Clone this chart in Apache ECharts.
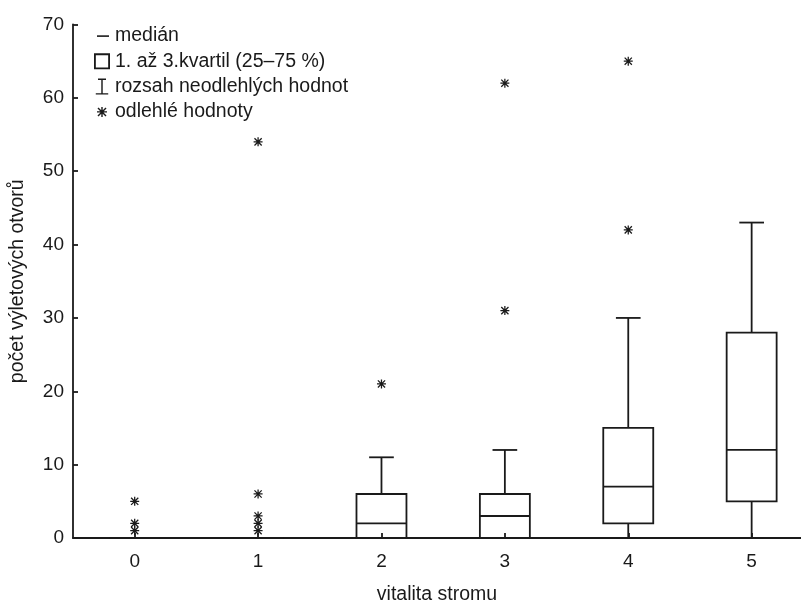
<!DOCTYPE html>
<html>
<head>
<meta charset="utf-8">
<script src="https://cdn.jsdelivr.net/npm/echarts@6/dist/echarts.min.js"></script>
<style>
html,body{margin:0;padding:0;background:#fff;}
#chart{width:801px;height:610px;}
</style>
</head>
<body>
<div id="chart"></div>
<script>
// ---- data ----
const categories = ['0', '1', '2', '3', '4', '5'];
const q1 = [0, 0, 0, 0, 2, 5];
const median = [0, 0, 2, 3, 7, 12];
const q3 = [0, 0, 6, 6, 15, 28];
const whiskerLow = [0, 0, 0, 0, 0, 0];
const whiskerHigh = [0, 0, 11, 12, 30, 43];
const outliers = [[5, 2, 1], [54, 6, 3, 2, 1], [21], [62, 31], [65, 42], []];
const yTicks = [0, 10, 20, 30, 40, 50, 60, 70];
const seriesNames = ['medián', '1. až 3.kvartil (25–75 %)', 'rozsah neodlehlých hodnot', 'odlehlé hodnoty'];
const xTitle = 'vitalita stromu';
const yTitle = 'počet výletových otvorů';

// ---- style ----
const INK = '#1a1a1a';
const LW = 1.8;
const BOX_W = 0.405;
const CAP_W = 0.2;
const FONT = 'Liberation Sans, Arial, sans-serif';
const STAR = 'path://M4.3,0H5.7V10H4.3Z M0,4.3H10V5.7H0Z M1.5,0.5L9.5,8.5L8.5,9.5L0.5,1.5Z M8.5,0.5L9.5,1.5L1.5,9.5L0.5,8.5Z';

const idx = categories.map((c, i) => i);
const boxData = idx.map(i => [i, q1[i], q3[i]]);
const medData = idx.map(i => [i, median[i]]);
const whiskData = idx.map(i => [i, whiskerLow[i], q1[i], q3[i], whiskerHigh[i]]);
const outData = [];
idx.forEach(i => outliers[i].forEach(v => outData.push([i, v])));

const chart = echarts.init(document.getElementById('chart'), null, {renderer: 'canvas'});
chart.setOption({
  animation: false,
  backgroundColor: '#fff',
  textStyle: {fontFamily: FONT, color: INK},
  grid: {left: 72, right: 0, top: 24.5, bottom: 63.5, containLabel: false},
  legend: {
    orient: 'vertical', left: 89, top: 21,
    itemWidth: 16, itemHeight: 16, itemGap: 5.3,
    selectedMode: false,
    textStyle: {fontSize: 19.5, color: INK, fontFamily: FONT, padding: [0, 0, 0, 0]},
    data: [
      {name: seriesNames[0], icon: 'path://M0,0 M16,16 M3,7.3H15V8.9H3Z', itemStyle: {color: INK, borderWidth: 0}},
      {name: seriesNames[1], icon: 'path://M1,1.5H15V15.5H1Z M2.6,3.1V13.9H13.4V3.1Z', itemStyle: {color: INK, borderWidth: 0}},
      {name: seriesNames[2], icon: 'path://M0,0 M16,18 M3.5,0H12.5V1.6H3.5Z M7.2,0H8.8V18H7.2Z M1,16.4H15V18H1Z', itemStyle: {color: INK, borderWidth: 0}},
      {name: seriesNames[3], icon: 'path://M-3,-3 M13,13 ' + STAR.slice(7), itemStyle: {color: INK, borderWidth: 0}}
    ]
  },
  xAxis: {
    type: 'value', min: -0.5, max: 5.4,
    name: xTitle, nameLocation: 'middle', nameGap: 47,
    nameTextStyle: {fontSize: 19.5, color: INK, fontFamily: FONT},
    axisLine: {show: true, onZero: false, lineStyle: {color: INK, width: LW}},
    axisTick: {show: true, inside: true, length: 5, lineStyle: {color: INK, width: LW}, customValues: idx},
    axisLabel: {fontSize: 19, color: INK, margin: 14, fontFamily: FONT, customValues: idx,
      formatter: v => categories[Math.round(v)]},
    splitLine: {show: false}
  },
  yAxis: {
    type: 'value', min: 0, max: 70, interval: 10,
    name: yTitle, nameLocation: 'middle', nameGap: 45,
    nameTextStyle: {fontSize: 19.5, color: INK, fontFamily: FONT},
    axisLine: {show: true, onZero: false, lineStyle: {color: INK, width: LW}},
    axisTick: {show: true, inside: true, length: 5, lineStyle: {color: INK, width: LW}},
    axisLabel: {fontSize: 19, color: INK, margin: 9, fontFamily: FONT,
      formatter: v => (yTicks.indexOf(v) >= 0 ? String(v) : '')},
    splitLine: {show: false}
  },
  series: [
    {
      name: seriesNames[2], type: 'custom', itemStyle: {color: INK},
      encode: {x: 0, y: [1, 4]},
      data: whiskData,
      renderItem: function (params, api) {
        const x = api.value(0);
        const lo = api.coord([x, api.value(1)]);
        const b = api.coord([x, api.value(2)]);
        const t = api.coord([x, api.value(3)]);
        const hi = api.coord([x, api.value(4)]);
        const cw = api.size([CAP_W, 0])[0];
        const st = {stroke: INK, lineWidth: LW, fill: 'none'};
        return {type: 'group', children: [
          {type: 'line', shape: {x1: lo[0], y1: lo[1], x2: b[0], y2: b[1]}, style: st},
          {type: 'line', shape: {x1: t[0], y1: t[1], x2: hi[0], y2: hi[1]}, style: st},
          {type: 'line', shape: {x1: hi[0] - cw / 2, y1: hi[1], x2: hi[0] + cw / 2, y2: hi[1]}, style: st},
          {type: 'line', shape: {x1: lo[0] - cw / 2, y1: lo[1], x2: lo[0] + cw / 2, y2: lo[1]}, style: st}
        ]};
      }
    },
    {
      name: seriesNames[1], type: 'custom', itemStyle: {color: INK},
      encode: {x: 0, y: [1, 2]},
      data: boxData,
      renderItem: function (params, api) {
        const x = api.value(0);
        const b = api.coord([x, api.value(1)]);
        const t = api.coord([x, api.value(2)]);
        const w = api.size([BOX_W, 0])[0];
        return {type: 'rect', shape: {x: b[0] - w / 2, y: t[1], width: w, height: b[1] - t[1]},
          style: {fill: 'none', stroke: INK, lineWidth: LW}};
      }
    },
    {
      name: seriesNames[0], type: 'custom', itemStyle: {color: INK},
      encode: {x: 0, y: 1},
      data: medData,
      renderItem: function (params, api) {
        const x = api.value(0);
        const m = api.coord([x, api.value(1)]);
        const w = api.size([BOX_W, 0])[0];
        return {type: 'line', shape: {x1: m[0] - w / 2, y1: m[1], x2: m[0] + w / 2, y2: m[1]},
          style: {stroke: INK, lineWidth: LW}};
      }
    },
    {
      name: seriesNames[3], type: 'scatter',
      symbol: STAR, symbolSize: 9,
      itemStyle: {color: INK, opacity: 1},
      data: outData,
      z: 5
    }
  ]
});
</script>
</body>
</html>
